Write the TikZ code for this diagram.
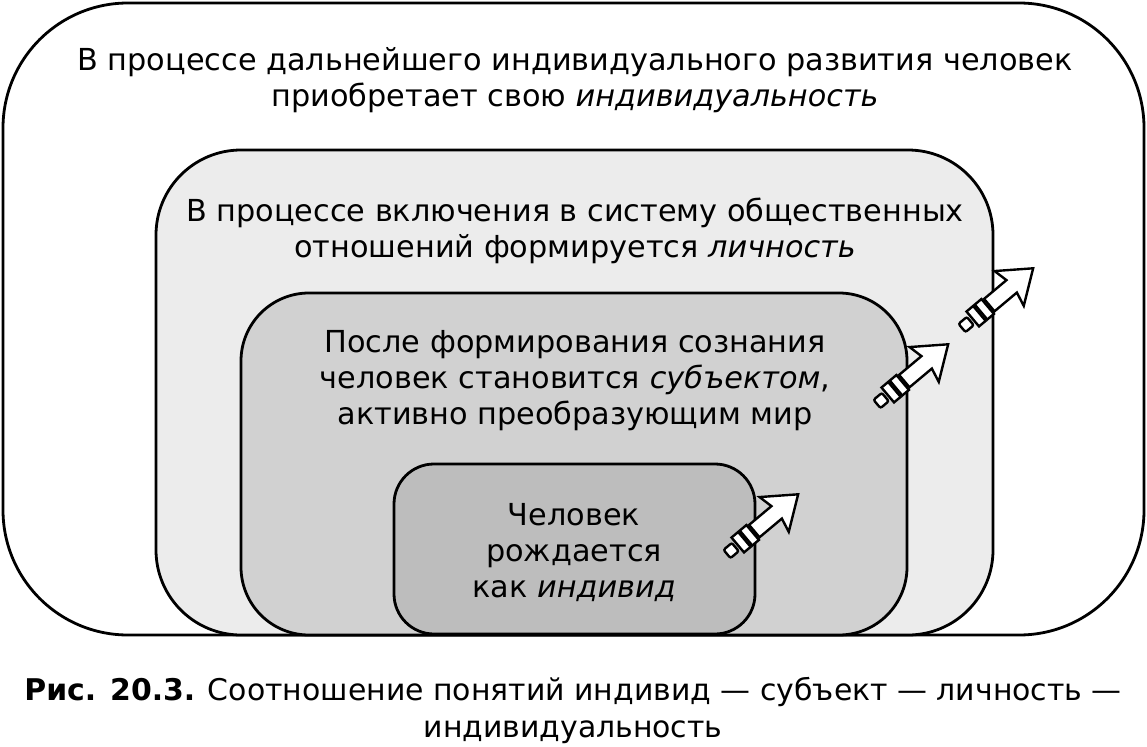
\documentclass[tikz,border=0pt]{standalone}
\usepackage{fontspec}
\setmainfont{DejaVu Sans}
\begin{document}
\begin{tikzpicture}[x=1pt,y=-1pt,
  boxline/.style={draw=black,line width=2.8pt},
  txt/.style={anchor=base,inner sep=0pt,font=\fontsize{30.3}{36}\selectfont},
  captxt/.style={anchor=base,inner sep=0pt,font=\fontsize{29.9}{36}\selectfont},
  arrowbody/.style={draw=black,fill=white,line width=2.4pt,line join=miter}]
\useasboundingbox (0,0) rectangle (1147,746);
\fill[white] (0,0) rectangle (1147,746);
% boxes
\path[boxline,fill=white,rounded corners=125pt] (3,3) rectangle (1144,635);
\path[boxline,fill=gray!15,rounded corners=85pt] (156,150) rectangle (993,635);
\path[boxline,fill=gray!36,rounded corners=68pt] (241,293) rectangle (907,635);
\path[boxline,fill=gray!52,rounded corners=40pt] (394,464) rectangle (755,634);
\draw[line width=2.8pt] (130,635) -- (1020,635);
% texts
\node[txt] (o1) at (575,71) {В процессе дальнейшего индивидуального развития человек};
\node[txt] (o2) at (575,107) {приобретает свою \textit{индивидуальность}};
\node[txt] (p1) at (575,221) {В процессе включения в систему общественных};
\node[txt] (p2) at (575,257) {отношений формируется \textit{личность}};
\node[txt] (s1) at (575,352) {После формирования сознания};
\node[txt] (s2) at (575,388) {человек становится \textit{субъектом},};
\node[txt] (s3) at (575,424) {активно преобразующим мир};
\node[txt] (i1) at (574,525) {Человек};
\node[txt] (i2) at (574,561) {рождается};
\node[txt] (i3) at (574,597) {как \textit{индивид}};
\node[captxt] (c1) at (573,700) {\textbf{Рис. 20.3.} Соотношение понятий индивид — субъект — личность —};
\node[captxt] (c2) at (573,737) {индивидуальность};
% arrows
\foreach \px/\py [count=\k] in {727/554, 877/404, 962/328}{
  \begin{scope}[shift={(\px,\py)},rotate=40,scale=1.08]
    \path[arrowbody,rounded corners=2pt] (0,-5) rectangle (10,5);
    \path[arrowbody] (13,-9) rectangle (21,9);
    \path[arrowbody] (23,-9) rectangle (31,9);
    \path[arrowbody] (33,-7.5) -- (60,-7.5) -- (57,-21) -- (86,0) -- (57,21) -- (60,7.5) -- (33,7.5) -- cycle;
  \end{scope}
}
\end{tikzpicture}
\end{document}
